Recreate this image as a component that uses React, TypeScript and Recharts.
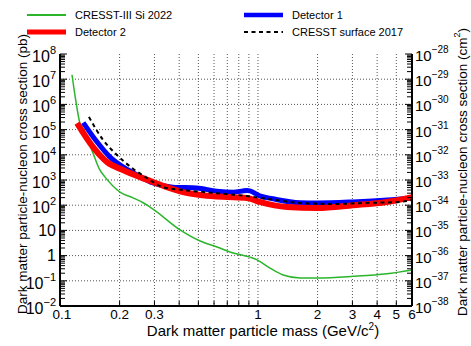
import { ComposedChart, Line, XAxis, YAxis, CartesianGrid, Label } from "recharts";

// CRESST-III Si 2022 limit (mass GeV/c^2, cross section pb)
const cresstSi2022 = [
  { m: 0.115, s: 1.5e7 },
  { m: 0.12, s: 1.5e6 },
  { m: 0.126, s: 1.8e5 },
  { m: 0.131, s: 9e4 },
  { m: 0.145, s: 1.5e4 },
  { m: 0.159, s: 2500 },
  { m: 0.169, s: 1300 },
  { m: 0.201, s: 330 },
  { m: 0.234, s: 195 },
  { m: 0.263, s: 125 },
  { m: 0.295, s: 70 },
  { m: 0.404, s: 10.5 },
  { m: 0.51, s: 3.8 },
  { m: 0.621, s: 2.2 },
  { m: 0.722, s: 1.4 },
  { m: 0.912, s: 0.87 },
  { m: 0.99, s: 0.68 },
  { m: 1.15, s: 0.32 },
  { m: 1.34, s: 0.17 },
  { m: 1.63, s: 0.13 },
  { m: 2.01, s: 0.13 },
  { m: 3.02, s: 0.15 },
  { m: 4.47, s: 0.19 },
  { m: 6, s: 0.27 },
];

const detector1 = [
  { m: 0.131, s: 1.9e5 },
  { m: 0.154, s: 3.2e4 },
  { m: 0.179, s: 8100 },
  { m: 0.208, s: 3300 },
  { m: 0.245, s: 1600 },
  { m: 0.295, s: 760 },
  { m: 0.372, s: 520 },
  { m: 0.49, s: 480 },
  { m: 0.62, s: 360 },
  { m: 0.75, s: 330 },
  { m: 0.88, s: 380 },
  { m: 0.91, s: 370 },
  { m: 1.02, s: 235 },
  { m: 1.19, s: 180 },
  { m: 1.63, s: 125 },
  { m: 2.0, s: 123 },
  { m: 3.0, s: 135 },
  { m: 4.5, s: 160 },
  { m: 6, s: 195 },
];

const detector2 = [
  { m: 0.122, s: 1.8e5 },
  { m: 0.147, s: 2.0e4 },
  { m: 0.173, s: 5100 },
  { m: 0.208, s: 2500 },
  { m: 0.254, s: 1300 },
  { m: 0.295, s: 830 },
  { m: 0.347, s: 520 },
  { m: 0.418, s: 330 },
  { m: 0.527, s: 250 },
  { m: 0.665, s: 215 },
  { m: 0.88, s: 195 },
  { m: 1.02, s: 135 },
  { m: 1.4, s: 85 },
  { m: 1.99, s: 78 },
  { m: 3.02, s: 100 },
  { m: 4.47, s: 135 },
  { m: 6, s: 210 },
];

const cresstSurface2017 = [
  { m: 0.14, s: 3.2e5 },
  { m: 0.165, s: 3.9e4 },
  { m: 0.194, s: 9800 },
  { m: 0.231, s: 3000 },
  { m: 0.275, s: 1200 },
  { m: 0.33, s: 520 },
  { m: 0.418, s: 400 },
  { m: 0.62, s: 300 },
  { m: 0.88, s: 230 },
  { m: 1.02, s: 195 },
  { m: 1.34, s: 148 },
  { m: 1.63, s: 123 },
  { m: 2.4, s: 112 },
  { m: 3.5, s: 123 },
  { m: 5.2, s: 135 },
  { m: 6, s: 162 },
];

const SERIES = [
  { name: "CRESST-III Si 2022", data: cresstSi2022, color: "#2bb52b", width: 1.5, legendWidth: 2, dash: undefined },
  { name: "Detector 1", data: detector1, color: "#0000ff", width: 5, legendWidth: 4.5, dash: undefined },
  { name: "Detector 2", data: detector2, color: "#ff0000", width: 6, legendWidth: 5, dash: undefined },
  { name: "CRESST surface 2017", data: cresstSurface2017, color: "#000000", width: 2, legendWidth: 2, dash: "4 3.5" },
];
// legend order: left column then right column, row by row
const LEGEND_ORDER = ["CRESST-III Si 2022", "Detector 1", "Detector 2", "CRESST surface 2017"];

const X_LABELLED = [0.1, 0.2, 0.3, 1, 2, 3, 4, 5, 6];
const X_TICKS = [0.1, 0.2, 0.3, 0.4, 0.5, 0.6, 0.7, 0.8, 0.9, 1, 2, 3, 4, 5, 6];
const X_GRID = [0.2, 0.3, 0.4, 0.5, 0.6, 0.7, 0.8, 0.9, 1, 2, 3, 4, 5];

const PB_DECADES = [1e-2, 1e-1, 1, 1e1, 1e2, 1e3, 1e4, 1e5, 1e6, 1e7, 1e8];
const CM_DECADES = [1e-38, 1e-37, 1e-36, 1e-35, 1e-34, 1e-33, 1e-32, 1e-31, 1e-30, 1e-29, 1e-28];
const MINOR = [2, 3, 4, 5, 6, 7, 8, 9];

const withMinor = (decades: number[]) => {
  const out: number[] = [];
  decades.forEach((d, i) => {
    out.push(d);
    if (i < decades.length - 1) MINOR.forEach((k) => out.push(k * d));
  });
  return out;
};
const PB_TICKS = withMinor(PB_DECADES);
const CM_TICKS = withMinor(CM_DECADES);

const FONT = "'Liberation Sans', Arial, Helvetica, sans-serif";
const W = 471;
const H = 346;

const isDecade = (v: number) => {
  const e = Math.log10(v);
  return Math.abs(e - Math.round(e)) < 1e-6;
};

const BottomTick = ({ x, y, payload }: any) => {
  const v = payload.value;
  const show = X_LABELLED.some((t) => Math.abs(t - v) < 1e-9);
  return (
    <g>
      <line x1={x} x2={x} y1={y} y2={y - 5} stroke="#000" strokeWidth={1} />
      {show && (
        <text x={x + (v === 0.1 ? 2 : 0)} y={y + 13} textAnchor="middle" fontSize={13.5} fill="#000" fontFamily={FONT}>
          {v}
        </text>
      )}
    </g>
  );
};

const TopTick = ({ x, y }: any) => (
  <line x1={x} x2={x} y1={y} y2={y + 5} stroke="#000" strokeWidth={1} />
);

const LeftTick = ({ x, y, payload }: any) => {
  const v = payload.value;
  const major = isDecade(v);
  if (!major) return <line x1={x} x2={x + 5} y1={y} y2={y} stroke="#000" strokeWidth={1} />;
  const e = Math.round(Math.log10(v));
  return (
    <g>
      <line x1={x} x2={x + 7} y1={y} y2={y} stroke="#000" strokeWidth={1} />
      {e === 0 || e === 1 ? (
        <text x={x - 4} y={y + 5.5} textAnchor="end" fontSize={16} fill="#000" fontFamily={FONT}>
          {e === 0 ? "1" : "10"}
        </text>
      ) : (
        <text x={x - 4} y={y + 8} textAnchor="end" fontSize={16} fill="#000" fontFamily={FONT}>
          <tspan>10</tspan>
          <tspan dy={-8} fontSize={11}>{e < 0 ? `\u2212${-e}` : `${e}`}</tspan>
        </text>
      )}
    </g>
  );
};

const RightTick = ({ x, y, payload }: any) => {
  const v = payload.value;
  const major = isDecade(v);
  if (!major) return <line x1={x} x2={x - 5} y1={y} y2={y} stroke="#000" strokeWidth={1} />;
  const e = Math.round(Math.log10(v));
  return (
    <g>
      <line x1={x} x2={x - 7} y1={y} y2={y} stroke="#000" strokeWidth={1} />
      <text x={x + 3} y={y + 7} textAnchor="start" fontSize={15} fill="#000" fontFamily={FONT}>
        <tspan>10</tspan>
        <tspan dy={-8} fontSize={10}>{`\u2212${-e}`}</tspan>
      </text>
    </g>
  );
};

const LegendBox = () => (
  <div style={{ position: "absolute", left: 0, top: 0, width: W, height: 45, fontFamily: FONT, fontSize: 11 }}>
    {LEGEND_ORDER.map((name, i) => {
      const s = SERIES.find((d) => d.name === name)!;
      const col = i % 2;
      const row = Math.floor(i / 2);
      return (
        <div
          key={name}
          style={{ position: "absolute", left: col ? 244 : 27, top: row ? 24 : 7, display: "flex", alignItems: "center", height: 16 }}
        >
          <svg width={40} height={10} style={{ display: "block" }}>
            <line x1={0} x2={39} y1={5} y2={5} stroke={s.color} strokeWidth={s.legendWidth} strokeDasharray={s.dash} />
          </svg>
          <span style={{ marginLeft: 8, whiteSpace: "nowrap" }}>{name}</span>
        </div>
      );
    })}
  </div>
);

export default function App() {
  return (
    <div style={{ position: "absolute", left: 0, top: 0, width: W, height: H, background: "#fff", fontFamily: FONT }}>
      <LegendBox />
      <ComposedChart width={W} height={H} margin={{ top: 54, right: 14, bottom: 10, left: 0 }}>
        <CartesianGrid
          horizontalValues={PB_DECADES.slice(1, -1)}
          verticalValues={X_GRID}
          yAxisId="pb"
          stroke="#555"
          strokeDasharray="1 2"
          strokeWidth={1}
        />
        <XAxis
          dataKey="m"
          type="number"
          scale="log"
          domain={[0.1, 6]}
          allowDataOverflow
          ticks={X_TICKS}
          interval={0}
          tickSize={0}
          tickMargin={0}
          tick={<BottomTick />}
          axisLine={{ stroke: "#000", strokeWidth: 2 }}
          height={30}
        >
          <Label
            content={({ viewBox }: any) => (
              <text
                x={viewBox.x + viewBox.width / 2 + 27}
                y={viewBox.y + 30}
                textAnchor="middle"
                fontSize={15}
                fill="#000"
                fontFamily={FONT}
              >
                <tspan>Dark matter particle mass (GeV/c</tspan>
                <tspan dy={-6} fontSize={10}>2</tspan>
                <tspan dy={6}>)</tspan>
              </text>
            )}
          />
        </XAxis>
        <XAxis
          xAxisId="top"
          orientation="top"
          type="number"
          scale="log"
          domain={[0.1, 6]}
          allowDataOverflow
          ticks={X_TICKS}
          interval={0}
          tickSize={0}
          tickMargin={0}
          tick={<TopTick />}
          axisLine={{ stroke: "#000", strokeWidth: 2 }}
          height={0}
        />
        <YAxis
          yAxisId="pb"
          type="number"
          scale="log"
          domain={[1e-2, 1e8]}
          allowDataOverflow
          ticks={PB_TICKS}
          interval={0}
          tickSize={0}
          tickMargin={0}
          tick={<LeftTick />}
          axisLine={{ stroke: "#000", strokeWidth: 2 }}
          width={60}
        >
          <Label
            content={({ viewBox }: any) => {
              const cx = viewBox.x + 22;
              const cy = viewBox.y + viewBox.height / 2 - 6;
              return (
                <text x={cx} y={cy} transform={`rotate(-90 ${cx} ${cy})`} textAnchor="middle" dominantBaseline="central" fontSize={13.5} fill="#000" fontFamily={FONT}>
                  Dark matter particle-nucleon cross section (pb)
                </text>
              );
            }}
          />
        </YAxis>
        <YAxis
          yAxisId="cm"
          orientation="right"
          type="number"
          scale="log"
          domain={[1e-38, 1e-28]}
          allowDataOverflow
          ticks={CM_TICKS}
          interval={0}
          tickSize={0}
          tickMargin={0}
          tick={<RightTick />}
          axisLine={{ stroke: "#000", strokeWidth: 2 }}
          width={45}
        >
          <Label
            content={({ viewBox }: any) => {
              const cx = viewBox.x + 50;
              const cy = viewBox.y + viewBox.height / 2 - 8;
              return (
                <text x={cx} y={cy} transform={`rotate(-90 ${cx} ${cy})`} textAnchor="middle" dominantBaseline="central" fontSize={13.5} fill="#000" fontFamily={FONT}>
                  <tspan>Dark matter particle-nucleon cross section (cm</tspan>
                  <tspan dy={-5} fontSize={9}>2</tspan>
                  <tspan dy={5}>)</tspan>
                </text>
              );
            }}
          />
        </YAxis>
        {SERIES.map((s) => (
          <Line
            key={s.name}
            yAxisId="pb"
            data={s.data}
            dataKey="s"
            name={s.name}
            type="monotoneX"
            stroke={s.color}
            strokeWidth={s.width}
            strokeDasharray={s.dash}
            dot={false}
            activeDot={false}
            isAnimationActive={false}
          />
        ))}
      </ComposedChart>
    </div>
  );
}
